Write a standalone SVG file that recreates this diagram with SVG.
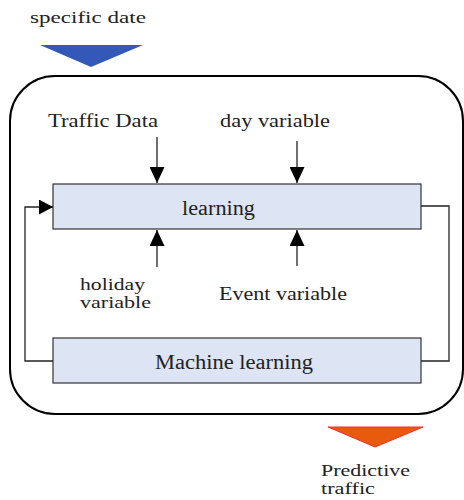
<svg xmlns="http://www.w3.org/2000/svg" width="464" height="500" viewBox="0 0 464 500">
<defs>
<style>
text{font-family:"Liberation Serif","DejaVu Serif",serif;font-size:19px;fill:#222;}
.box{fill:#dde4f4;stroke:#333;stroke-width:1.2;}
.conn{fill:none;stroke:#222;stroke-width:1.3;}
</style>
<marker id="ah" viewBox="0 0 16 15" refX="16" refY="7.5" markerWidth="16" markerHeight="15" markerUnits="userSpaceOnUse" orient="auto"><path d="M0,0 L16,7.5 L0,15 Z" fill="#000"/></marker>
<marker id="ahl" viewBox="0 0 14 15" refX="14" refY="7.5" markerWidth="14" markerHeight="15" markerUnits="userSpaceOnUse" orient="auto"><path d="M0,0 L14,7.5 L0,15 Z" fill="#000"/></marker>
</defs>
<rect x="0" y="0" width="464" height="500" fill="#fff"/>
<g id="input-specific-date">
<text x="30" y="23" style="font-size:17px" textLength="116" lengthAdjust="spacingAndGlyphs">specific date</text>
<polygon points="40,45 143,45 91,67" fill="#3358b8"/>
</g>
<g id="container">
<rect x="10" y="76" width="453" height="338" rx="45" ry="45" fill="none" stroke="#000" stroke-width="2"/>
</g>
<g id="label-traffic-data"><text x="48" y="127" textLength="110" lengthAdjust="spacingAndGlyphs">Traffic Data</text></g>
<g id="label-day-variable"><text x="220" y="127" textLength="110" lengthAdjust="spacingAndGlyphs">day variable</text></g>
<g id="label-holiday-variable"><text x="80" y="290" style="font-size:17px" textLength="65" lengthAdjust="spacingAndGlyphs">holiday</text><text x="80" y="308" style="font-size:17px" textLength="71" lengthAdjust="spacingAndGlyphs">variable</text></g>
<g id="label-event-variable"><text x="219" y="300" textLength="128" lengthAdjust="spacingAndGlyphs">Event variable</text></g>
<g id="learning">
<rect class="box" x="53" y="184" width="368" height="45"/>
<text x="182" y="215" style="font-size:20px" textLength="73" lengthAdjust="spacingAndGlyphs">learning</text>
</g>
<g id="machine-learning">
<rect class="box" x="53" y="338" width="368" height="45"/>
<text x="155" y="369" style="font-size:20px" textLength="158" lengthAdjust="spacingAndGlyphs">Machine learning</text>
</g>
<g id="output-predictive-traffic">
<polygon points="328,427 423,427 375,447" fill="#e85a0c" stroke="#f03030" stroke-width="1"/>
<text x="321" y="476" style="font-size:17px" textLength="89" lengthAdjust="spacingAndGlyphs">Predictive</text>
<text x="321" y="494" style="font-size:17px" textLength="54" lengthAdjust="spacingAndGlyphs">traffic</text>
</g>
<g id="connectors">
<line class="conn" x1="157" y1="137" x2="157" y2="183" marker-end="url(#ah)"/>
<line class="conn" x1="297" y1="141" x2="297" y2="183" marker-end="url(#ah)"/>
<line class="conn" x1="157" y1="267" x2="157" y2="230" marker-end="url(#ah)"/>
<line class="conn" x1="297" y1="266" x2="297" y2="230" marker-end="url(#ah)"/>
<polyline class="conn" points="53,361 25,361 25,207 53,207" marker-end="url(#ahl)"/>
<polyline class="conn" points="421,206 449,206 449,361 421,361"/>
</g>
</svg>
